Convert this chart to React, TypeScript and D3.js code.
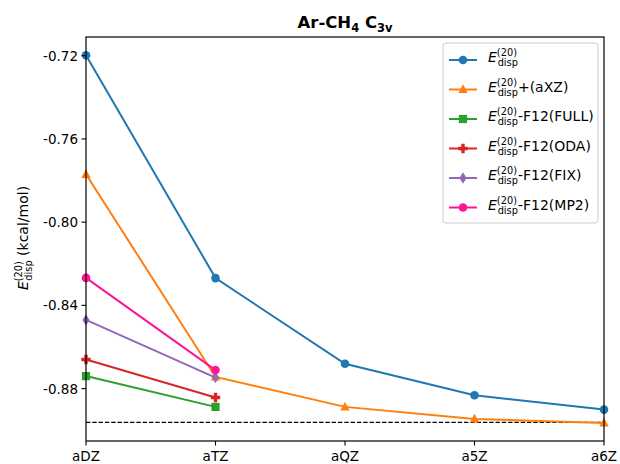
import React from "react";
import * as d3 from "d3";

const categories = ["aDZ", "aTZ", "aQZ", "a5Z", "a6Z"];
const yTicks = [-0.72, -0.76, -0.8, -0.84, -0.88];
const refLine = -0.8962;

const dispValues = [-0.7198, -0.8269, -0.8681, -0.8832, -0.8901];
const dispAxzValues = [-0.777, -0.8744, -0.8888, -0.8946, -0.8965];
const f12FullValues = [-0.874, -0.8888];
const f12OdaValues = [-0.866, -0.8843];
const f12FixValues = [-0.847, -0.8747];
const f12Mp2Values = [-0.8268, -0.8711];

const seriesNames = ["", "+(aXZ)", "-F12(FULL)", "-F12(ODA)", "-F12(FIX)", "-F12(MP2)"];
const seriesColors = ["#1f77b4", "#ff7f0e", "#2ca02c", "#d62728", "#9467bd", "#ff1493"];
const seriesMarkers = ["circle", "triangle", "square", "plus", "diamond", "circle"];
const seriesData = [dispValues, dispAxzValues, f12FullValues, f12OdaValues, f12FixValues, f12Mp2Values];

const W = 620, H = 464;
const L = 86, R = 604, T = 37, B = 441;

function Marker({ type, x, y, color }: { type: string; x: number; y: number; color: string }) {
  if (type === "circle") return <circle cx={x} cy={y} r={4.3} fill={color} />;
  if (type === "triangle")
    return <path d={`M${x},${y - 5.2} L${x + 4.7},${y + 3.6} L${x - 4.7},${y + 3.6} Z`} fill={color} />;
  if (type === "square") return <rect x={x - 4.1} y={y - 4.1} width={8.2} height={8.2} fill={color} />;
  if (type === "plus")
    return (
      <path
        d={`M${x - 1.7},${y - 4.7} h3.4 v3 h3 v3.4 h-3 v3 h-3.4 v-3 h-3 v-3.4 h3 Z`}
        fill={color}
      />
    );
  if (type === "diamond")
    return <path d={`M${x},${y - 5.7} L${x + 3.6},${y} L${x},${y + 5.7} L${x - 3.6},${y} Z`} fill={color} />;
  return null;
}

function ELabel({ x, y, suffix, size }: { x: number; y: number; suffix: string; size: number }) {
  const s = size * 0.7;
  return (
    <text x={x} y={y} fontSize={size} fontFamily="DejaVu Sans" fill="#000">
      <tspan fontStyle="italic">E</tspan>
      <tspan fontSize={s} dy={-size * 0.42}>(20)</tspan>
      <tspan fontSize={s} dx={-size * 1.38} dy={size * 0.72}>disp</tspan>
      <tspan dy={-size * 0.3}>{suffix}</tspan>
    </text>
  );
}

export default function App() {
  const x = d3.scalePoint<string>().domain(categories).range([L, R]);
  const y = d3.scaleLinear().domain([-0.9052, -0.711]).range([B, T]);
  const line = d3
    .line<number>()
    .x((_, i) => x(categories[i]) as number)
    .y((d) => y(d));

  const legX = 443, legY = 43, legW = 155, legH = 180;
  const rowH = 29.5;

  return (
    <svg width={W} height={H} style={{ position: "absolute", left: 0, top: 0 }} fontFamily="DejaVu Sans">
      <rect width={W} height={H} fill="#fff" />
      <text x={(L + R) / 2} y={28} textAnchor="middle" fontSize={16.5} fontWeight="bold">
        Ar-CH
        <tspan fontSize={11.5} dy={4}>4</tspan>
        <tspan dy={-4}> C</tspan>
        <tspan fontSize={11.5} dy={4}>3v</tspan>
      </text>
      <line x1={L} x2={R} y1={y(refLine)} y2={y(refLine)} stroke="#000" strokeWidth={1.2} strokeDasharray="4.4,1.9" />
      {seriesData.map((vals, si) => (
        <g key={si}>
          <path d={line(vals) || ""} fill="none" stroke={seriesColors[si]} strokeWidth={2} />
          {vals.map((v, i) => (
            <Marker key={i} type={seriesMarkers[si]} x={x(categories[i]) as number} y={y(v)} color={seriesColors[si]} />
          ))}
        </g>
      ))}
      <rect x={L} y={T} width={R - L} height={B - T} fill="none" stroke="#000" strokeWidth={1.2} />
      {yTicks.map((t) => (
        <g key={t}>
          <line x1={L - 4.5} x2={L} y1={y(t)} y2={y(t)} stroke="#000" strokeWidth={1.1} />
          <text x={L - 8} y={y(t) + 5} textAnchor="end" fontSize={13.5}>
            {d3.format(".2f")(t).replace("−", "-")}
          </text>
        </g>
      ))}
      {categories.map((c) => (
        <g key={c}>
          <line x1={x(c)} x2={x(c)} y1={B} y2={B + 4.5} stroke="#000" strokeWidth={1.1} />
          <text x={x(c)} y={B + 20} textAnchor="middle" fontSize={13.5}>
            {c}
          </text>
        </g>
      ))}
      <g transform={`translate(28, 238) rotate(-90)`}>
        <text x={0} y={0} textAnchor="middle" fontSize={14} fontFamily="DejaVu Sans">
          <tspan fontStyle="italic">E</tspan>
          <tspan fontSize={9.8} dy={-6}>(20)</tspan>
          <tspan fontSize={9.8} dx={-19.5} dy={10}>disp</tspan>
          <tspan dy={-4}> (kcal/mol)</tspan>
        </text>
      </g>
      <rect x={legX} y={legY} width={legW} height={legH} rx={3} fill="#fff" fillOpacity={0.8} stroke="#ccc" strokeWidth={1} />
      {seriesNames.map((name, i) => {
        const cy = legY + 17 + i * rowH;
        return (
          <g key={i}>
            <line x1={legX + 6} x2={legX + 34} y1={cy} y2={cy} stroke={seriesColors[i]} strokeWidth={2} />
            <Marker type={seriesMarkers[i]} x={legX + 20} y={cy} color={seriesColors[i]} />
            <ELabel x={legX + 45} y={cy + 2} suffix={name} size={14} />
          </g>
        );
      })}
    </svg>
  );
}
